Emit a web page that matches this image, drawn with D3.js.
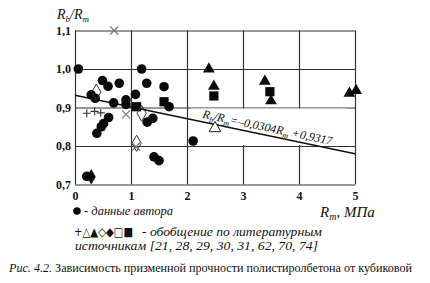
<!DOCTYPE html>
<html>
<head>
<meta charset="utf-8">
<script src="https://cdn.jsdelivr.net/npm/d3@7"></script>
<style>
  html, body { margin: 0; padding: 0; background: #fff; }
  svg { display: block; }
  text { font-family: "Liberation Serif", "Times New Roman", serif; fill: #111; }
</style>
</head>
<body>
<svg id="chart" width="430" height="283"></svg>
<script>
// Tick values
const xTicks = [0, 1, 2, 3, 4, 5];
const yTicks = [0.7, 0.8, 0.9, 1.0, 1.1];

// Author's own test data (filled circles)
const authorX = [0.06, 1.19, 0.49, 0.59, 0.79, 1.28, 1.59, 0.29, 0.36, 0.69, 0.91, 0.91, 1.08, 1.68,
                 0.60, 0.51, 0.47, 0.39, 1.29, 1.39, 1.41, 1.50, 0.21, 2.11];
const authorY = [1.00, 1.00, 0.970, 0.955, 0.963, 0.963, 0.954, 0.933, 0.924, 0.912, 0.920, 0.908, 0.934, 0.902,
                 0.874, 0.858, 0.850, 0.833, 0.862, 0.872, 0.772, 0.762, 0.721, 0.813];

// Literature data, one pair of arrays per marker type
const plusX = [0.21, 0.35, 0.46];
const plusY = [0.885, 0.890, 0.886];
const crossX = [0.70, 0.91, 1.09];
const crossY = [1.10, 0.882, 0.798];
const openTriX = [2.50];
const openTriY = [0.846];
const fillTriX = [2.39, 2.48, 3.39, 3.50, 4.90, 5.02];
const fillTriY = [1.00, 0.955, 0.968, 0.917, 0.937, 0.944];
const openDiaX = [0.38, 1.19, 1.10];
const openDiaY = [0.940, 0.885, 0.807];
const fillDiaX = [0.29];
const fillDiaY = [0.720];
const fillSqX = [1.10, 1.59, 2.48, 3.48];
const fillSqY = [0.902, 0.915, 0.930, 0.941];

// Regression Rb/Rm = a*Rm + b
const regA = -0.0304;
const regB = 0.9317;

const svg = d3.select("#chart");
const x = d3.scaleLinear().domain([0, 5]).range([75, 355]);
const y = d3.scaleLinear().domain([0.7, 1.1]).range([184.5, 30.5]);
const fmt = d => d3.format(".1f")(d).replace(".", ",");

const gridColor = "#333";

// Axes drawn as full grid lines
const gx = svg.append("g").attr("transform", `translate(0,${y(0.7)})`)
  .call(d3.axisBottom(x).tickValues(xTicks).tickSize(-(y(0.7) - y(1.1))).tickPadding(7).tickFormat(d3.format("d")));
const gy = svg.append("g").attr("transform", `translate(${x(0)},0)`)
  .call(d3.axisLeft(y).tickValues(yTicks).tickSize(-(x(5) - x(0))).tickPadding(4).tickFormat(fmt));
[gx, gy].forEach(g => {
  g.select(".domain").remove();
  g.selectAll(".tick line").attr("stroke", gridColor).attr("stroke-width", 1.2);
  g.selectAll(".tick text").attr("font-size", 12).attr("font-weight", "bold").attr("fill", "#1a1a1a")
    .style("font-family", "'Liberation Serif', serif");
});

// White band behind the equation label
svg.append("rect")
  .attr("x", x(2.08)).attr("y", y(0.9) + 1)
  .attr("width", x(4.85) - x(2.08)).attr("height", y(0.8) - y(0.9) - 2)
  .attr("fill", "#fff");

// Regression line
svg.append("line")
  .attr("x1", x(0)).attr("y1", y(regB))
  .attr("x2", x(5)).attr("y2", y(regA * 5 + regB))
  .attr("stroke", "#111").attr("stroke-width", 1.6);

// Markers
const pts = (xs, ys) => xs.map((v, i) => [x(v), y(ys[i])]);
const sym = (type, size) => d3.symbol().type(type).size(size)();

svg.append("g").selectAll("circle").data(pts(authorX, authorY)).join("circle")
  .attr("cx", d => d[0]).attr("cy", d => d[1]).attr("r", 4.8).attr("fill", "#0a0a0a");

svg.append("g").selectAll("path").data(pts(fillSqX, fillSqY)).join("path")
  .attr("transform", d => `translate(${d[0]},${d[1]})`)
  .attr("d", sym(d3.symbolSquare, 85)).attr("fill", "#0a0a0a");

svg.append("g").selectAll("path").data(pts(fillTriX, fillTriY)).join("path")
  .attr("transform", d => `translate(${d[0]},${d[1]})`)
  .attr("d", sym(d3.symbolTriangle, 60)).attr("fill", "#0a0a0a");

svg.append("g").selectAll("path").data(pts(fillDiaX, fillDiaY)).join("path")
  .attr("transform", d => `translate(${d[0]},${d[1]})`)
  .attr("d", sym(d3.symbolDiamond, 70)).attr("fill", "#0a0a0a");

svg.append("g").selectAll("path").data(pts(openTriX, openTriY)).join("path")
  .attr("transform", d => `translate(${d[0]},${d[1]})`)
  .attr("d", sym(d3.symbolTriangle, 60)).attr("fill", "#fff").attr("stroke", "#222").attr("stroke-width", 1);

svg.append("g").selectAll("path").data(pts(openDiaX, openDiaY)).join("path")
  .attr("transform", d => `translate(${d[0]},${d[1]})`)
  .attr("d", sym(d3.symbolDiamond, 75)).attr("fill", "none").attr("stroke", "#333").attr("stroke-width", 1);

svg.append("g").selectAll("path").data(pts(plusX, plusY)).join("path")
  .attr("transform", d => `translate(${d[0]},${d[1]})`)
  .attr("d", "M-4,0H4M0,-4V4").attr("stroke", "#333").attr("stroke-width", 1.1);

svg.append("g").selectAll("path").data(pts(crossX, crossY)).join("path")
  .attr("transform", d => `translate(${d[0]},${d[1]})`)
  .attr("d", "M-4,-4L4,4M-4,4L4,-4").attr("stroke", "#777").attr("stroke-width", 1.2);

// Equation label along the regression line
const ang = Math.atan2(y(regA * 5 + regB) - y(regB), x(5) - x(0)) * 180 / Math.PI;
const ex = x(2.27), ey = y(regA * 2.27 + regB) - 4;
const eq = svg.append("text")
  .attr("transform", `translate(${ex},${ey}) rotate(${ang})`)
  .attr("font-size", 12).attr("font-style", "italic");
eq.append("tspan").text("R");
eq.append("tspan").attr("font-size", 8).attr("dy", 3).text("b");
eq.append("tspan").attr("dy", -3).text("/R");
eq.append("tspan").attr("font-size", 8).attr("dy", 3).text("m");
eq.append("tspan").attr("dy", -3).text("=–0,0304R");
eq.append("tspan").attr("font-size", 8).attr("dy", 3).text("m");
eq.append("tspan").attr("dy", -3).text(" +0,9317");

// Axis titles
const yt = svg.append("text").attr("x", 57).attr("y", 19).attr("font-size", 14).attr("font-style", "italic");
yt.append("tspan").text("R");
yt.append("tspan").attr("font-size", 9).attr("dy", 3).text("b");
yt.append("tspan").attr("dy", -3).text("/R");
yt.append("tspan").attr("font-size", 9).attr("dy", 3).text("m");

const xt = svg.append("text").attr("x", 320).attr("y", 217).attr("font-size", 15).attr("font-style", "italic");
xt.append("tspan").text("R");
xt.append("tspan").attr("font-size", 10).attr("dy", 3).text("m");
xt.append("tspan").attr("dy", -3).text(", МПа");

// Legend
svg.append("circle").attr("cx", 77).attr("cy", 211).attr("r", 3.8).attr("fill", "#0a0a0a");
svg.append("text").attr("x", 84).attr("y", 215).attr("font-size", 12.5).attr("font-style", "italic")
  .attr("textLength", 89).attr("lengthAdjust", "spacingAndGlyphs")
  .text("- данные автора");

svg.append("text").attr("x", 74).attr("y", 236).attr("font-size", 12)
  .style("font-family", "'DejaVu Sans', sans-serif")
  .attr("textLength", 59).attr("lengthAdjust", "spacingAndGlyphs")
  .text("+△▲◇◆□■");
svg.append("text").attr("x", 142).attr("y", 236).attr("font-size", 12.5).attr("font-style", "italic")
  .attr("textLength", 180).attr("lengthAdjust", "spacingAndGlyphs")
  .text("- обобщение по литературным");
svg.append("text").attr("x", 75).attr("y", 250).attr("font-size", 12.5).attr("font-style", "italic")
  .attr("textLength", 243).attr("lengthAdjust", "spacingAndGlyphs")
  .text("источникам  [21, 28, 29, 30, 31, 62, 70, 74]");

// Figure caption
const cap = svg.append("text").attr("x", 9).attr("y", 272).attr("font-size", 11.5)
  .attr("textLength", 403).attr("lengthAdjust", "spacingAndGlyphs");
cap.append("tspan").attr("font-style", "italic").text("Рис. 4.2. ");
cap.append("tspan").text("Зависимость призменной прочности полистиролбетона от кубиковой");
</script>
</body>
</html>
